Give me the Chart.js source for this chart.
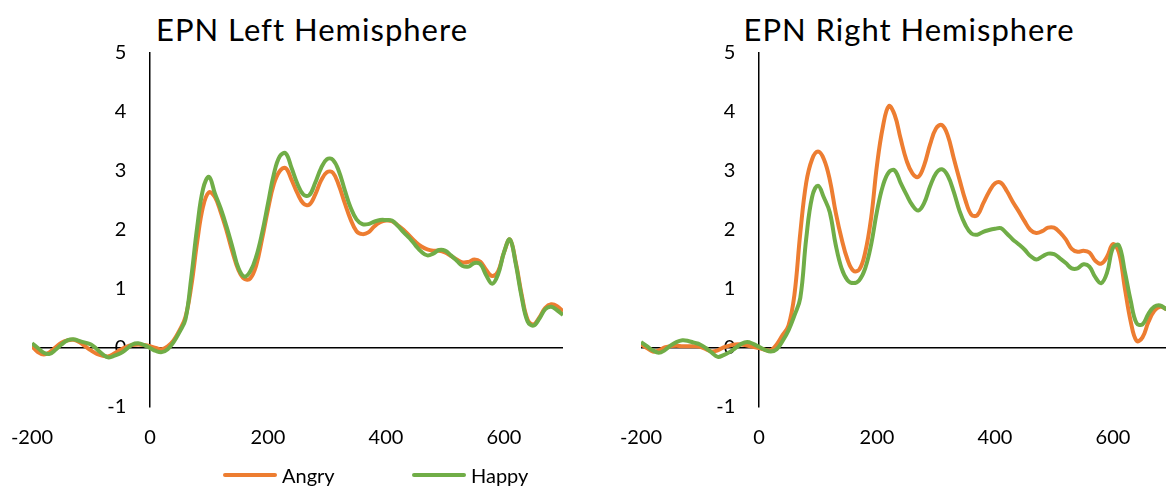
<!DOCTYPE html>
<html lang="en">
<head>
<meta charset="UTF-8">
<title>EPN Hemispheres</title>
<script src="https://cdn.jsdelivr.net/npm/chart.js"></script>
<style>
  html, body { margin: 0; padding: 0; width: 1166px; height: 488px; overflow: hidden; background: #fff; font-family: Lato, sans-serif; }
  canvas { position: absolute; top: 0; }
  #chartLeft { left: 0; }
  #chartRight { left: 600px; }
  .titolo { position: absolute; top: 12px; width: 500px; text-align: center; font-size: 31px; line-height: 34px; letter-spacing: 1px; color: #000; white-space: nowrap; }
  .voce { position: absolute; top: 463px; display: flex; align-items: center; font-size: 20px; line-height: 24px; color: #000; }
  .tratto { width: 54px; height: 4px; border-radius: 2px; margin-right: 5px; }
</style>
</head>
<body>
<div class="titolo" style="left:62px">EPN Left Hemisphere</div>
<div class="titolo" style="left:659px">EPN Right Hemisphere</div>
<canvas id="chartLeft" width="590" height="488"></canvas>
<canvas id="chartRight" width="590" height="488"></canvas>
<div class="voce" style="left:223px"><span class="tratto" style="background:#ED7D31"></span>Angry</div>
<div class="voce" style="left:412px"><span class="tratto" style="background:#70AD47"></span>Happy</div>

<script>
// time in ms
const tempi = [
  -200, -190, -180, -170, -160, -150, -140, -130, -120, -110,
  -100, -90, -80, -70, -60, -50, -40, -30, -20, -10,
  0, 10, 20, 30, 40, 50, 60, 70, 80, 90,
  100, 110, 120, 130, 140, 150, 160, 170, 180, 190,
  200, 210, 220, 230, 240, 250, 260, 270, 280, 290,
  300, 310, 320, 330, 340, 350, 360, 370, 380, 390,
  400, 410, 420, 430, 440, 450, 460, 470, 480, 490,
  500, 510, 520, 530, 540, 550, 560, 570, 580, 590,
  600, 610, 620, 630, 640, 650, 660, 670, 680, 690, 700
];

const sinistraAngry = [
  0.03, -0.07, -0.11, -0.07, 0.01, 0.09, 0.13, 0.14, 0.10, 0.03,
  -0.04, -0.10, -0.13, -0.14, -0.09, -0.03, 0.02, 0.05, 0.06, 0.05,
  0.03, 0.00, -0.02, 0.03, 0.13, 0.30, 0.52, 1.05, 1.80, 2.40,
  2.64, 2.56, 2.30, 1.98, 1.62, 1.32, 1.17, 1.18, 1.40, 1.85,
  2.35, 2.78, 3.00, 3.05, 2.85, 2.62, 2.45, 2.43, 2.60, 2.84,
  2.98, 2.97, 2.76, 2.46, 2.18, 1.98, 1.93, 1.96, 2.06, 2.13,
  2.16, 2.15, 2.08, 2.00, 1.90, 1.80, 1.72, 1.67, 1.65, 1.65,
  1.62, 1.56, 1.50, 1.45, 1.46, 1.50, 1.46, 1.32, 1.22, 1.30,
  1.62, 1.84, 1.45, 0.90, 0.48, 0.40, 0.52, 0.68, 0.74, 0.71, 0.62
];

const sinistraHappy = [
  0.08, 0.00, -0.08, -0.10, -0.03, 0.06, 0.13, 0.15, 0.12, 0.09,
  0.06, -0.02, -0.11, -0.16, -0.13, -0.09, -0.02, 0.06, 0.08, 0.05,
  0.00, -0.05, -0.07, -0.02, 0.10, 0.27, 0.48, 1.20, 2.05, 2.70,
  2.90, 2.62, 2.36, 2.05, 1.70, 1.35, 1.21, 1.30, 1.55, 1.95,
  2.45, 2.95, 3.25, 3.30, 3.05, 2.78, 2.60, 2.59, 2.80, 3.05,
  3.20, 3.19, 3.00, 2.68, 2.38, 2.18, 2.10, 2.10, 2.14, 2.17,
  2.17, 2.16, 2.07, 1.96, 1.86, 1.74, 1.63, 1.57, 1.60, 1.66,
  1.65, 1.57, 1.48, 1.39, 1.38, 1.44, 1.42, 1.23, 1.09, 1.25,
  1.62, 1.84, 1.42, 0.86, 0.45, 0.38, 0.50, 0.66, 0.70, 0.64, 0.56
];

const destraAngry = [
  0.06, 0.00, -0.06, -0.04, 0.01, 0.03, 0.04, 0.03, 0.03, 0.03,
  0.02, -0.02, -0.06, -0.04, 0.01, 0.04, 0.06, 0.06, 0.04, 0.02,
  0.00, -0.03, -0.04, 0.06, 0.22, 0.38, 0.90, 1.95, 2.80, 3.20,
  3.33, 3.20, 2.85, 2.30, 1.85, 1.50, 1.31, 1.33, 1.62, 2.20,
  3.10, 3.75, 4.10, 3.95, 3.55, 3.18, 2.96, 2.90, 3.10, 3.45,
  3.72, 3.78, 3.60, 3.22, 2.85, 2.50, 2.26, 2.25, 2.45, 2.65,
  2.79, 2.80, 2.66, 2.48, 2.32, 2.15, 2.00, 1.95, 1.98, 2.04,
  2.04, 1.96, 1.84, 1.68, 1.63, 1.65, 1.62, 1.48, 1.43, 1.55,
  1.76, 1.62, 1.02, 0.45, 0.12, 0.18, 0.44, 0.63, 0.70, 0.66, 0.60
];

const destraHappy = [
  0.10, 0.03, -0.04, -0.08, -0.04, 0.04, 0.10, 0.13, 0.12, 0.09,
  0.06, 0.00, -0.08, -0.15, -0.12, -0.07, 0.00, 0.07, 0.10, 0.07,
  0.02, -0.03, -0.06, -0.02, 0.12, 0.30, 0.55, 0.85, 1.85, 2.56,
  2.75, 2.55, 2.30, 1.75, 1.35, 1.15, 1.10, 1.15, 1.35, 1.75,
  2.32, 2.75, 2.98, 3.01, 2.80, 2.60, 2.42, 2.33, 2.46, 2.74,
  2.96, 3.03, 2.92, 2.65, 2.32, 2.08, 1.94, 1.92, 1.97, 2.00,
  2.02, 2.03, 1.94, 1.84, 1.76, 1.67, 1.56, 1.50, 1.55, 1.60,
  1.59, 1.52, 1.44, 1.35, 1.35, 1.42, 1.38, 1.20, 1.10, 1.28,
  1.70, 1.74, 1.30, 0.80, 0.42, 0.40, 0.58, 0.70, 0.72, 0.66, 0.62
];

const tickX = [-200, 0, 200, 400, 600];

const ARANCIO = '#ED7D31';
const VERDE = '#70AD47';

function punti(valori) {
  return tempi.map((t, i) => ({ x: t, y: valori[i] }));
}

function creaGrafico(id, angry, happy, padSx, padDx) {
  const ctx = document.getElementById(id).getContext('2d');
  const fontTick = { family: 'Lato', size: 20 };
  return new Chart(ctx, {
    type: 'line',
    data: {
      datasets: [
        { label: 'Angry', data: punti(angry), borderColor: ARANCIO, borderWidth: 4, pointRadius: 0, tension: 0.4, fill: false, order: 1 },
        { label: 'Happy', data: punti(happy), borderColor: VERDE, borderWidth: 4, pointRadius: 0, tension: 0.4, fill: false, order: 0 }
      ]
    },
    options: {
      responsive: false,
      animation: false,
      layout: { padding: { left: padSx, right: padDx, top: 53, bottom: 41 } },
      plugins: { legend: { display: false }, tooltip: { enabled: false }, title: { display: false } },
      scales: {
        x: {
          type: 'linear',
          min: -200,
          max: 700,
          // le tacche non si disegnano, servono solo a spostare le etichette in basso
          grid: { display: false, drawTicks: true, tickLength: 19 },
          border: { display: false },
          afterFit: s => { s.height = 40; },
          afterBuildTicks: s => { s.ticks = tickX.map(v => ({ value: v })); },
          ticks: { padding: 0, maxRotation: 0, autoSkip: false, color: '#000', font: fontTick }
        },
        // asse verticale che passa per x = 0, con la riga dello zero
        y: {
          position: { x: 0 },
          min: -1,
          max: 5,
          grid: {
            drawTicks: false,
            lineWidth: 1.5,
            color: c => (c.tick && c.tick.value === 0) ? '#000' : 'rgba(0,0,0,0)'
          },
          border: { display: true, color: '#000', width: 1.5 },
          ticks: { stepSize: 1, display: false }
        },
        // solo etichette, un po' a sinistra dell'asse
        yEtichette: {
          axis: 'y',
          position: { x: -40 },
          min: -1,
          max: 5,
          grid: { display: false, drawTicks: false },
          border: { display: false },
          ticks: { stepSize: 1, color: '#000', font: fontTick }
        }
      }
    }
  });
}

creaGrafico('chartLeft', sinistraAngry, sinistraHappy, 32, 27);
creaGrafico('chartRight', destraAngry, destraHappy, 41, 18);
</script>
</body>
</html>
